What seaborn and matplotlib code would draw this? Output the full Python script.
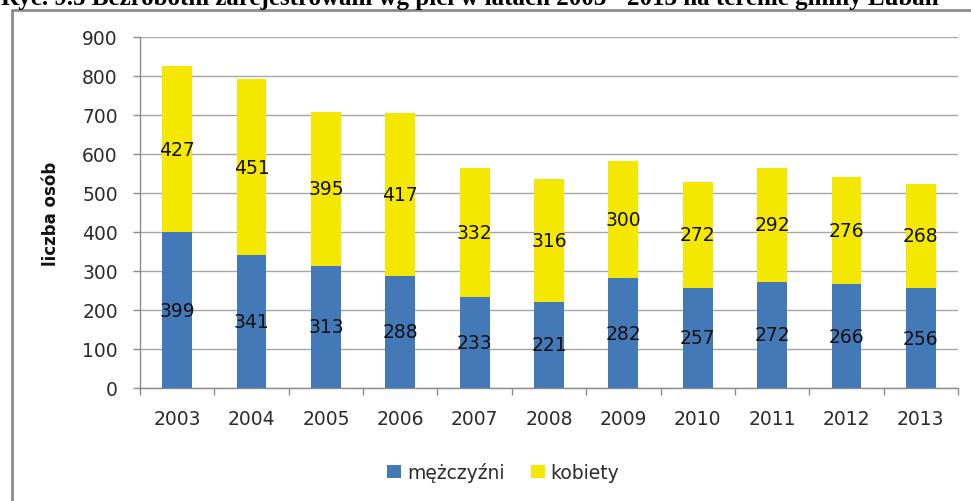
import numpy as np
import pandas as pd
import matplotlib
matplotlib.use('Agg')
import matplotlib.pyplot as plt
import seaborn as sns
from matplotlib.patches import Patch
from matplotlib.lines import Line2D
from matplotlib.ticker import FixedLocator

# ---- data ----
years = ['2003', '2004', '2005', '2006', '2007', '2008', '2009', '2010', '2011', '2012', '2013']
men = [399, 341, 313, 288, 233, 221, 282, 257, 272, 266, 256]
women = [427, 451, 395, 417, 332, 316, 300, 272, 292, 276, 268]
series_labels = ['mężczyźni', 'kobiety']
yticks = [0, 100, 200, 300, 400, 500, 600, 700, 800, 900]
title = 'Ryc. 9.5 Bezrobotni zarejestrowani wg płci w latach 2003 - 2013 na terenie gminy Lubań'
ylabel = 'liczba osób'

BLUE = '#4479B8'
YELLOW = '#F5E800'
GRID = '#a6a6a6'
AXC = '#8c8c8c'
TXT = '#2b2b2b'
FS = 13.5

sns.set_theme(style='white')
plt.rcParams['font.family'] = ['DejaVu Sans']

df = pd.DataFrame({'rok': years, 'men': men, 'women': women})
df['total'] = df['men'] + df['women']

fig = plt.figure(figsize=(9.71, 5.02), dpi=100)
ax = fig.add_axes([140 / 971, 1 - 389 / 502, 818 / 971, 351 / 502])

sns.barplot(data=df, x='rok', y='total', order=years, color=YELLOW, saturation=1,
            width=0.4, linewidth=0, ax=ax, zorder=2)
sns.barplot(data=df, x='rok', y='men', order=years, color=BLUE, saturation=1,
            width=0.4, linewidth=0, ax=ax, zorder=3)

ax.set_ylim(0, 900)
ax.set_xlim(-0.5, len(years) - 0.5)
ax.set_yticks(yticks)
ax.set_axisbelow(True)
ax.yaxis.grid(True, color=GRID, lw=1)
ax.xaxis.grid(False)

for s in ['top', 'right']:
    ax.spines[s].set_visible(False)
for s in ['left', 'bottom']:
    ax.spines[s].set_color(AXC)
    ax.spines[s].set_linewidth(1)

ax.tick_params(axis='y', left=True, length=5, width=1, color=AXC, direction='out',
               pad=11, labelsize=FS, labelcolor=TXT)
ax.xaxis.set_minor_locator(FixedLocator(np.arange(-0.5, len(years), 1.0)))
ax.tick_params(axis='x', which='major', bottom=True, length=0, pad=15, labelsize=FS, labelcolor=TXT)
ax.tick_params(axis='x', which='minor', bottom=True, length=5, width=1, color=AXC, direction='out')

ax.set_xlabel('')
ax.set_ylabel(ylabel, fontsize=12, fontweight='bold', color='#111111')
ax.yaxis.set_label_coords(-80 / 818, 0.5)

# value labels
ax.bar_label(ax.containers[1], labels=[str(v) for v in men], label_type='center',
             fontsize=FS, color='#111111')
for i, (m, w) in enumerate(zip(men, women)):
    ax.text(i, m + w / 2, str(w), ha='center', va='center', fontsize=FS, color='#111111', zorder=5)

handles = [Patch(facecolor=BLUE, edgecolor='none'), Patch(facecolor=YELLOW, edgecolor='none')]
fig.legend(handles, series_labels, loc='center', bbox_to_anchor=(503 / 971, 1 - 473 / 502),
           ncol=2, frameon=False, fontsize=FS, handlelength=0.75, handleheight=0.75,
           handletextpad=0.3, columnspacing=1.4, labelcolor=TXT)

# outer frame (partially visible)
fig.add_artist(Line2D([11.5 / 971, 11.5 / 971], [0, 1 - 10.5 / 502], transform=fig.transFigure,
                      color=AXC, lw=2))
fig.add_artist(Line2D([11.5 / 971, 1], [1 - 10.5 / 502, 1 - 10.5 / 502], transform=fig.transFigure,
                      color=AXC, lw=2))

fig.text(0.001, 1 - 5 / 502, title, ha='left', va='baseline', fontsize=18,
         fontweight='bold', family=['Liberation Serif', 'DejaVu Serif'], color='black')

fig.savefig('out.png', dpi=100)
